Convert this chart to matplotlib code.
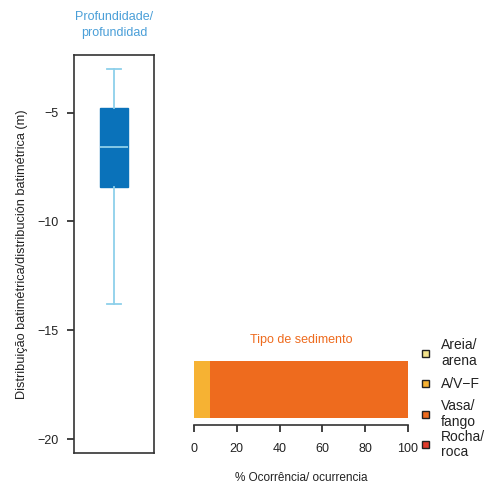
import matplotlib.pyplot as plt
from matplotlib.patches import Rectangle

plt.rcParams['font.family'] = ['Liberation Sans', 'DejaVu Sans']

# depth box stats (m)
depth_stats = dict(whislo=-13.8, q1=-8.4, med=-6.6, q3=-4.8, whishi=-3.0)
depth_ticks = [-5, -10, -15, -20]

# sediment type occurrence (%)
sed_labels = ["Areia/\narena", "A/V\u2212F", "Vasa/\nfango", "Rocha/\nroca"]
sed_values = [0.0, 7.5, 92.5, 0.0]
sed_colors = ["#F3E38C", "#F6B233", "#EE6B1E", "#E03B2B"]
x_ticks = [0, 20, 40, 60, 80, 100]

fig = plt.figure(figsize=(4.88, 4.87), dpi=100)

# left panel: depth boxplot
ax1 = fig.add_axes([74 / 488, 1 - 453 / 487, 80 / 488, 398 / 487])
bp = ax1.bxp([dict(depth_stats, fliers=[])], positions=[0], widths=0.35,
             patch_artist=True, showfliers=False)
for b in bp['boxes']:
    b.set_facecolor('#0A72BA')
    b.set_edgecolor('#0A72BA')
for k in ('whiskers', 'caps', 'medians'):
    for ln in bp[k]:
        ln.set_color('#8ED0EA')
        ln.set_linewidth(1.3)
for ln in bp['caps']:
    ln.set_xdata([-0.09, 0.09])
ax1.set_xlim(-0.5, 0.5)
ax1.set_ylim(-20.64, -2.35)
ax1.set_xticks([])
ax1.set_yticks(depth_ticks)
ax1.tick_params(axis='y', labelsize=9, length=5, width=1.2, pad=6, colors='#222222')
for s in ax1.spines.values():
    s.set_color('#333333')
    s.set_linewidth(1.2)
ax1.set_ylabel("Distribuição batimétrica/distribución batimétrica (m)", fontsize=9.2,
               labelpad=7, color='#222222')
ax1.set_title("Profundidade/\nprofundidad", color='#4A9FD8', fontsize=9, pad=14, linespacing=1.4)

# right panel: sediment stacked bar
ax2 = fig.add_axes([194 / 488, 1 - 425 / 487, 214 / 488, 75 / 487])
left = 0.0
for val, col in zip(sed_values, sed_colors):
    ax2.barh(0.47, val, left=left, height=0.76, color=col, edgecolor='none')
    left += val
ax2.set_xlim(0, 100)
ax2.set_ylim(0, 1)
ax2.set_yticks([])
ax2.set_xticks(x_ticks)
for side in ('top', 'right', 'left'):
    ax2.spines[side].set_visible(False)
ax2.spines['bottom'].set_color('#333333')
ax2.spines['bottom'].set_linewidth(1.2)
ax2.tick_params(axis='x', labelsize=9, length=5, width=1.2, pad=8, colors='#222222')
ax2.set_xlabel("% Ocorrência/ ocurrencia", fontsize=8.5, labelpad=12, color='#222222')
ax2.set_title("Tipo de sedimento", color='#EE6B1E', fontsize=9, pad=5)

# legend, evenly spaced entries like the R original
for i, (lab, col) in enumerate(zip(sed_labels, sed_colors)):
    yc = 1 - (353 + 30.5 * i) / 487
    fig.add_artist(Rectangle((422 / 488, yc - 3.5 / 487), 7 / 488, 7 / 487,
                             transform=fig.transFigure, facecolor=col,
                             edgecolor='#222222', linewidth=1))
    fig.text(441 / 488, yc, lab, fontsize=10, va='center', ha='left',
             linespacing=1.15, color='#222222')

fig.savefig("out.png", dpi=100)
